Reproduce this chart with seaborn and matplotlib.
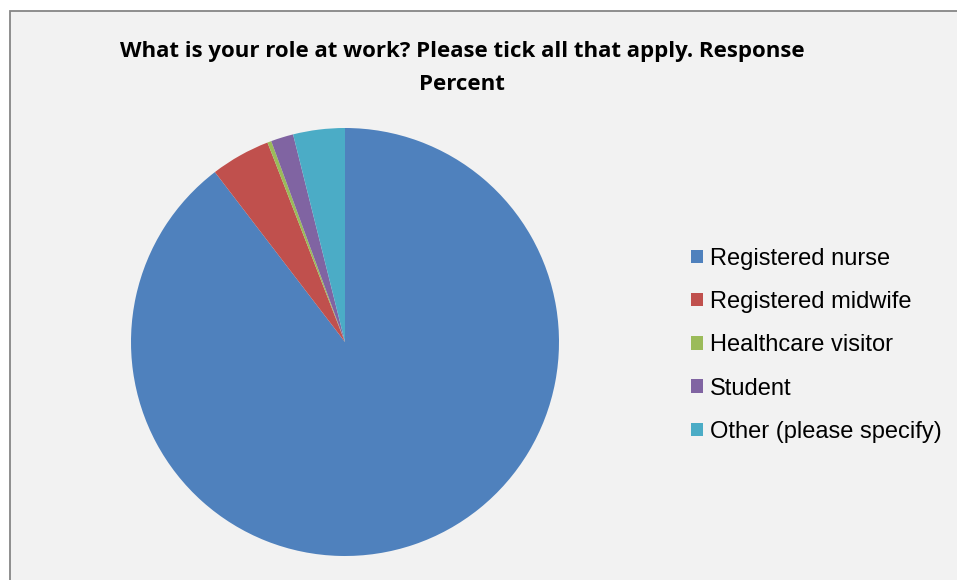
import matplotlib
matplotlib.use("Agg")
import matplotlib.pyplot as plt
from matplotlib.patches import Rectangle, Patch
import seaborn as sns

# Survey responses
roles = ["Registered nurse", "Registered midwife", "Healthcare visitor",
         "Student", "Other (please specify)"]
response_percent = [89.6, 4.5, 0.3, 1.7, 3.9]
title_text = "What is your role at work? Please tick all that apply. Response\nPercent"

sns.set_style("white")
palette = sns.color_palette(["#4F81BD", "#C0504D", "#9BBB59", "#8064A2", "#4BACC6"])

W, H = 957, 580
fig = plt.figure(figsize=(W / 100, H / 100), dpi=100)
fig.patch.set_facecolor("white")

# Chart area panel with grey border
fig.patches.append(Rectangle((9.5 / W, -0.05), 1.1, 1 - 10.5 / H + 0.05,
                             transform=fig.transFigure, facecolor="#F2F2F2",
                             edgecolor="#868686", linewidth=1.3, zorder=-5))

cx, cy, r = 345, 342, 214
ax = fig.add_axes([(cx - r) / W, (H - cy - r) / H, 2 * r / W, 2 * r / H])
ax.set_zorder(2)
ax.set_facecolor("none")
ax.pie(response_percent, colors=palette, startangle=90, counterclock=False,
       radius=1.0, wedgeprops=dict(linewidth=0))
ax.set_xlim(-1, 1)
ax.set_ylim(-1, 1)
ax.set_aspect("equal")
ax.axis("off")

fig.text(462 / W, 1 - 41 / H, title_text, ha="center", va="top",
         fontsize=16, fontweight="bold", family="Open Sans",
         linespacing=1.72, color="black")

handles = [Patch(facecolor=c, edgecolor="none") for c in palette]
leg = fig.legend(handles, roles, loc="upper left",
                 bbox_to_anchor=(679 / W, 1 - 236 / H), frameon=False,
                 prop={"family": "Liberation Sans", "size": 17},
                 handlelength=0.5, handleheight=0.5, handletextpad=0.3,
                 labelspacing=0.9, borderpad=0)
for t in leg.get_texts():
    t.set_color("black")

fig.savefig("out.png", dpi=100, facecolor="white")
